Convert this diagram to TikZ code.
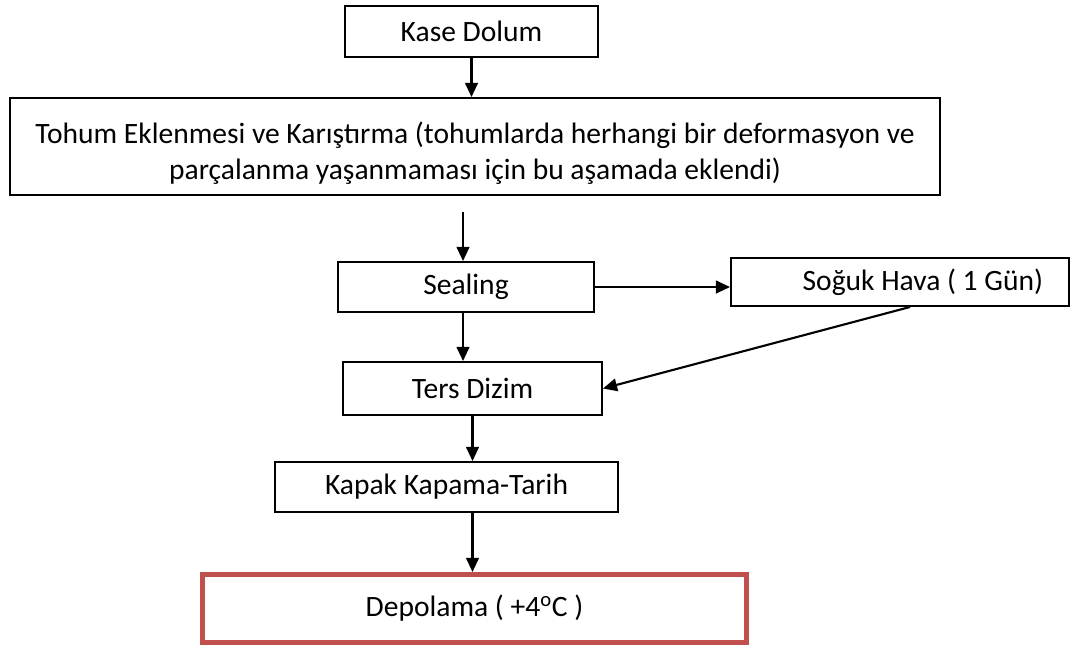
\documentclass[tikz,border=0pt]{standalone}
\usepackage{fontspec}
\setmainfont{Carlito}
\usepackage{tikz}
\usetikzlibrary{arrows.meta,positioning}

\begin{document}
\begin{tikzpicture}[x=0.025cm,y=-0.025cm,->,>={Triangle[length=10pt,width=9pt]},
	main node/.style={draw, rectangle, line width=1.4pt, inner sep=0pt, font=\fontsize{21}{26}\selectfont}]
	\useasboundingbox (0,0) rectangle (1078,654);
	
	\node[main node, minimum width=253*0.025cm, minimum height=51*0.025cm] (1) at (471.5,31.5) {Kase Dolum};
	\node[main node, minimum width=930*0.025cm, minimum height=97*0.025cm, align=center] (2) at (475,146.5)
	{\rule{0pt}{25pt}Tohum Eklenmesi ve Karıştırma (tohumlarda herhangi bir deformasyon ve\\[0pt] parçalanma yaşanmaması için bu aşamada eklendi)};
	
	\node[main node, minimum width=256*0.025cm, minimum height=50*0.025cm] (3) at (466,287) {Sealing};
	\node[main node, minimum width=338*0.025cm, minimum height=48*0.025cm, text width=286*0.025cm, align=flush right] (4) at (900,282) {Soğuk Hava ( 1 Gün)};
	\node[main node, minimum width=259*0.025cm, minimum height=53*0.025cm] (5) at (472.5,388.5) {Ters Dizim};
	\node[main node, minimum width=343*0.025cm, minimum height=50*0.025cm] (6) at (446.5,487) {Kapak Kapama-Tarih};
	\node[main node, draw={rgb,255:red,192;green,80;blue,77}, line width=3.6pt, minimum width=544*0.025cm, minimum height=68*0.025cm] (7) at (474.5,608.5) {Depolama ( +4\textsuperscript{o}C )};
	
	\coordinate (g) at (463,212);
	
	\path[line width=1.5pt]
	(1.south) edge (1.south |- 2.north)
	(g) edge (g |- 3.north)
	(3.east) edge (4.west |- 3.east)
	(3.south -| g) edge (5.north -| g)
	([xshift=0.25cm]4.south) edge (5.east)
	(5.south) edge (6.north -| 5.south)
	(6.south -| 5.south) edge (7.north -| 5.south);
	
\end{tikzpicture}
\end{document}
